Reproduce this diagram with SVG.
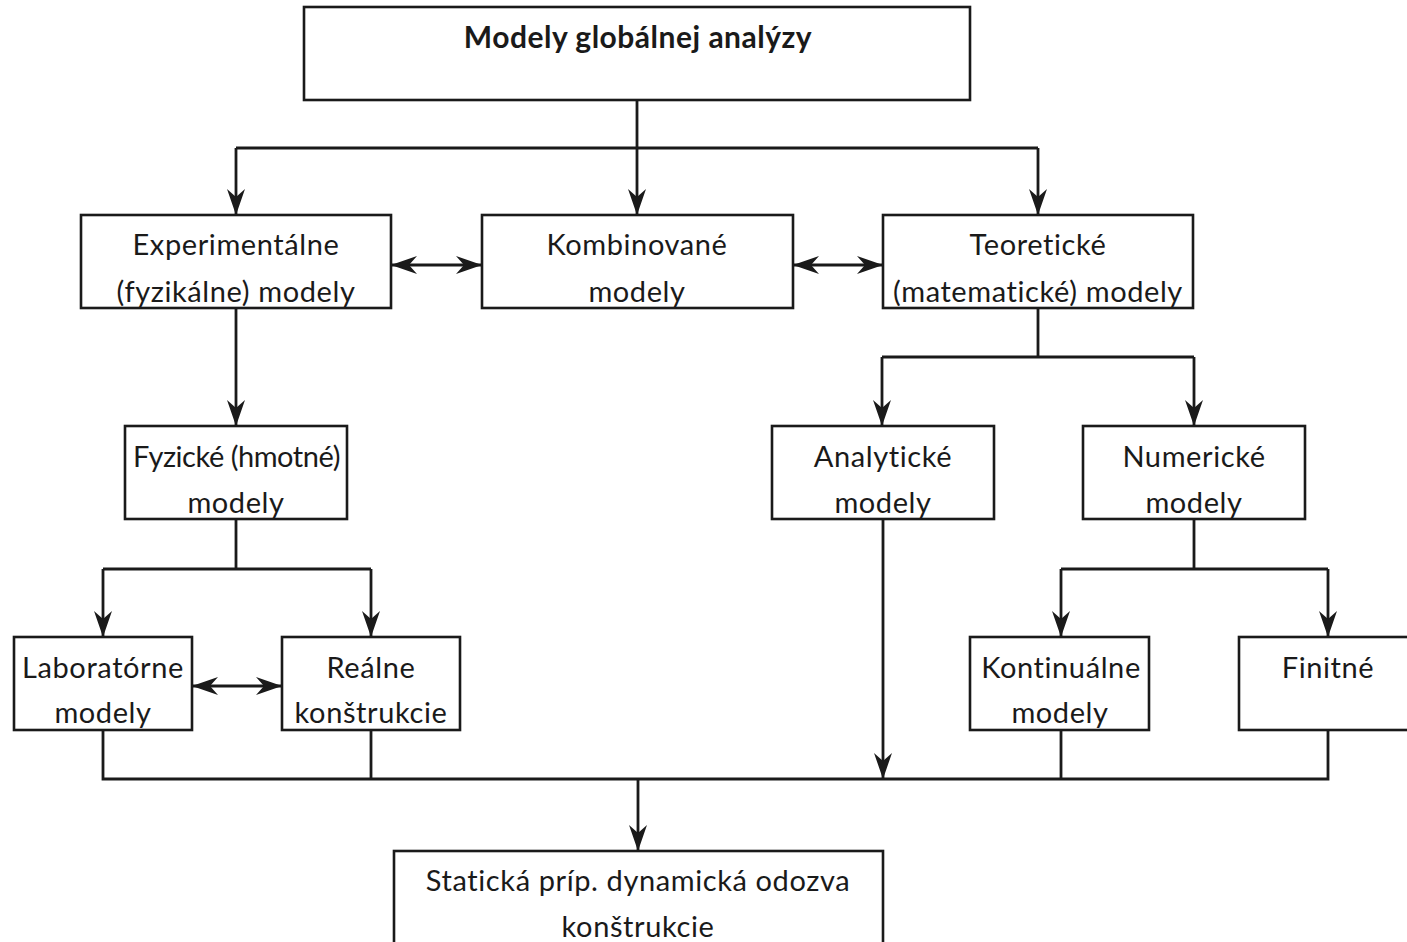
<svg xmlns="http://www.w3.org/2000/svg" width="1407" height="942" viewBox="0 0 1407 942">
<style>
.box{fill:#fff;stroke:#1a1a1a;stroke-width:2.6}
.t{font-family:Lato,"Liberation Sans",sans-serif;font-size:29px;letter-spacing:0.6px;fill:#1a1a1a;text-anchor:middle}
.b{font-weight:bold;font-size:30px;letter-spacing:0.5px}
.c{fill:none;stroke:#1a1a1a;stroke-width:2.8}
</style>
<defs>
<marker id="ah" viewBox="0 0 26 18" refX="25" refY="9" markerWidth="26" markerHeight="18" markerUnits="userSpaceOnUse" orient="auto-start-reverse">
<path d="M0,0 L26,9 L0,18 L8,9 Z" fill="#1a1a1a"/>
</marker>
</defs>
<rect width="1407" height="942" fill="#fff"/>
<g id="connectors">
<path class="c" d="M637,100 V148"/>
<path class="c" d="M236,148 H1038"/>
<path class="c" d="M236,148 V214" marker-end="url(#ah)"/>
<path class="c" d="M637,148 V214" marker-end="url(#ah)"/>
<path class="c" d="M1038,148 V214" marker-end="url(#ah)"/>
<path class="c" d="M392,265 H481" marker-start="url(#ah)" marker-end="url(#ah)"/>
<path class="c" d="M794,265 H882" marker-start="url(#ah)" marker-end="url(#ah)"/>
<path class="c" d="M236,308 V425" marker-end="url(#ah)"/>
<path class="c" d="M1038,308 V357"/>
<path class="c" d="M882,357 H1194"/>
<path class="c" d="M882,357 V425" marker-end="url(#ah)"/>
<path class="c" d="M1194,357 V425" marker-end="url(#ah)"/>
<path class="c" d="M236,519 V569"/>
<path class="c" d="M103,569 H371"/>
<path class="c" d="M103,569 V636" marker-end="url(#ah)"/>
<path class="c" d="M371,569 V636" marker-end="url(#ah)"/>
<path class="c" d="M193,686 H281" marker-start="url(#ah)" marker-end="url(#ah)"/>
<path class="c" d="M1194,519 V569"/>
<path class="c" d="M1061,569 H1328"/>
<path class="c" d="M1061,569 V636" marker-end="url(#ah)"/>
<path class="c" d="M1328,569 V636" marker-end="url(#ah)"/>
<path class="c" d="M883,519 V778" marker-end="url(#ah)"/>
<path class="c" d="M103,730 V779 H1328 V730"/>
<path class="c" d="M371,730 V779"/>
<path class="c" d="M1061,730 V779"/>
<path class="c" d="M638,779 V850" marker-end="url(#ah)"/>
</g>
<g id="n-top">
<rect class="box" x="304" y="7" width="666" height="93"/>
<text class="t b" x="638" y="48">Modely globálnej analýzy</text>
</g>
<g id="n-exp">
<rect class="box" x="81" y="215" width="310" height="93"/>
<text class="t" x="236" y="255">Experimentálne</text>
<text class="t" x="236" y="302">(fyzikálne) modely</text>
</g>
<g id="n-komb">
<rect class="box" x="482" y="215" width="311" height="93"/>
<text class="t" x="637" y="255">Kombinované</text>
<text class="t" x="637" y="302">modely</text>
</g>
<g id="n-teor">
<rect class="box" x="883" y="215" width="310" height="93"/>
<text class="t" x="1038" y="255">Teoretické</text>
<text class="t" x="1038" y="302">(matematické) modely</text>
</g>
<g id="n-fyz">
<rect class="box" x="125" y="426" width="222" height="93"/>
<text class="t" x="237" y="467" textLength="208" lengthAdjust="spacing">Fyzické (hmotné)</text>
<text class="t" x="236" y="513">modely</text>
</g>
<g id="n-anal">
<rect class="box" x="772" y="426" width="222" height="93"/>
<text class="t" x="883" y="467">Analytické</text>
<text class="t" x="883" y="513">modely</text>
</g>
<g id="n-num">
<rect class="box" x="1083" y="426" width="222" height="93"/>
<text class="t" x="1194" y="467">Numerické</text>
<text class="t" x="1194" y="513">modely</text>
</g>
<g id="n-lab">
<rect class="box" x="14" y="637" width="178" height="93"/>
<text class="t" x="103" y="678">Laboratórne</text>
<text class="t" x="103" y="723">modely</text>
</g>
<g id="n-real">
<rect class="box" x="282" y="637" width="178" height="93"/>
<text class="t" x="371" y="678">Reálne</text>
<text class="t" x="371" y="723">konštrukcie</text>
</g>
<g id="n-kont">
<rect class="box" x="970" y="637" width="179" height="93"/>
<text class="t" x="1061" y="678">Kontinuálne</text>
<text class="t" x="1060" y="723">modely</text>
</g>
<g id="n-fin">
<rect class="box" x="1239" y="637" width="180" height="93"/>
<text class="t" x="1328" y="678">Finitné</text>
</g>
<g id="n-odozva">
<rect class="box" x="394" y="851" width="489" height="100"/>
<text class="t" x="638" y="891">Statická príp. dynamická odozva</text>
<text class="t" x="638" y="937">konštrukcie</text>
</g>
</svg>
